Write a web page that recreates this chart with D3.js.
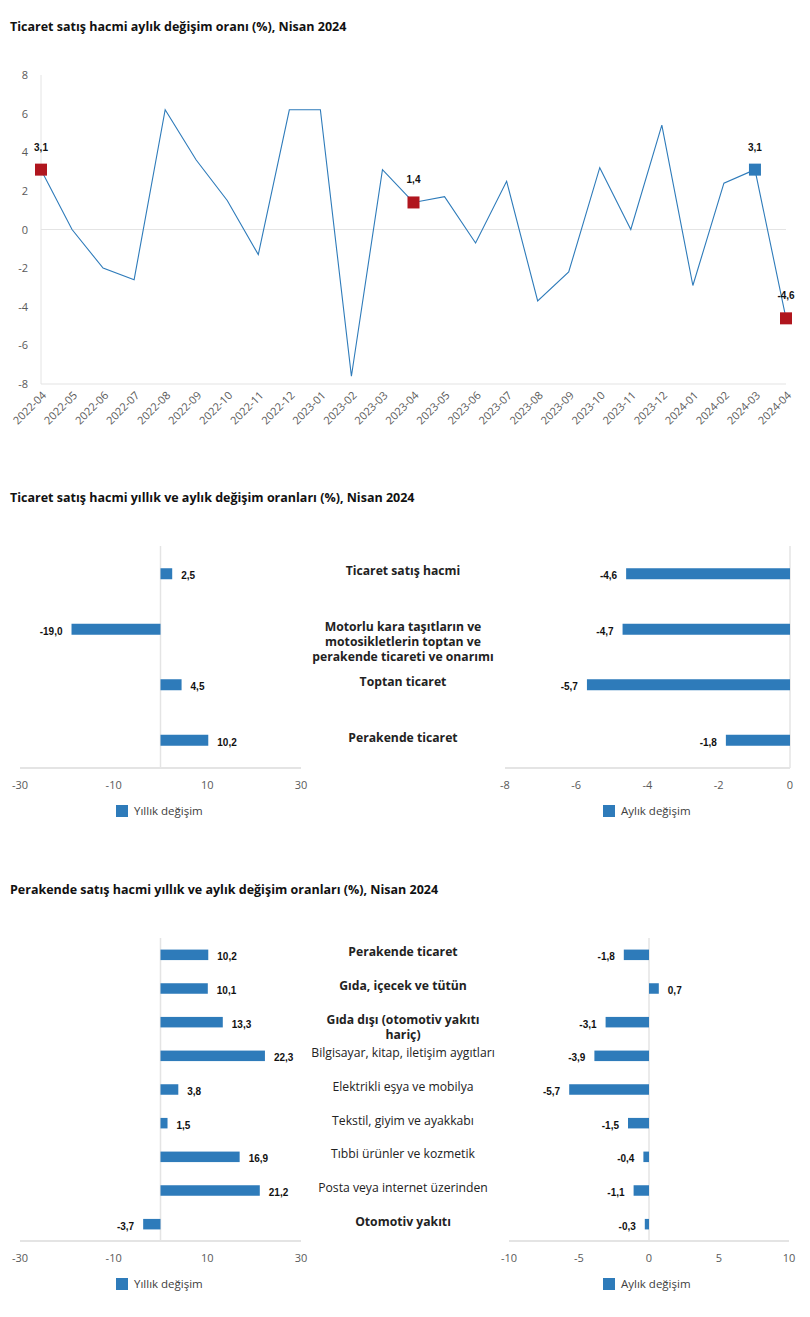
<!DOCTYPE html>
<html>
<head>
<meta charset="utf-8">
<script src="https://cdn.jsdelivr.net/npm/d3@7"></script>
<style>
  html, body { margin: 0; padding: 0; background: #fff; }
  svg { display: block; }
  text { font-family: "Open Sans", "Noto Sans", sans-serif; }
  .title { font-weight: 700; font-size: 12.5px; fill: #111; }
  .tick { font-size: 11px; fill: #595959; }
  .val { font-family: "Liberation Sans", Arial, sans-serif; font-weight: 700; font-size: 10px; fill: #111; }
  .cat { font-size: 12.2px; fill: #222; }
  .legend { font-size: 11.5px; fill: #404040; }
</style>
</head>
<body>
<script>
// ---------- DATA ----------
const months = ["2022-04","2022-05","2022-06","2022-07","2022-08","2022-09","2022-10","2022-11","2022-12",
  "2023-01","2023-02","2023-03","2023-04","2023-05","2023-06","2023-07","2023-08","2023-09","2023-10",
  "2023-11","2023-12","2024-01","2024-02","2024-03","2024-04"];
const monthlyChange = [3.1, 0.0, -2.0, -2.6, 6.2, 3.6, 1.5, -1.3, 6.2, 6.2, -7.6, 3.1, 1.4, 1.7, -0.7,
  2.5, -3.7, -2.2, 3.2, 0.0, 5.4, -2.9, 2.4, 3.1, -4.6];
const markedMonths = ["2022-04", "2023-04", "2024-03", "2024-04"];
const lineTicks = [-8, -6, -4, -2, 0, 2, 4, 6, 8];

const tradeCategories = ["Ticaret satış hacmi",
  "Motorlu kara taşıtların ve\nmotosikletlerin toptan ve\nperakende ticareti ve onarımı",
  "Toptan ticaret", "Perakende ticaret"];
const tradeAnnual = [2.5, -19.0, 4.5, 10.2];
const tradeMonthly = [-4.6, -4.7, -5.7, -1.8];
const tradeAnnualTicks = [-30, -10, 10, 30];
const tradeMonthlyTicks = [-8, -6, -4, -2, 0];

const retailCategories = ["Perakende ticaret", "Gıda, içecek ve tütün", "Gıda dışı (otomotiv yakıtı\nhariç)",
  "Bilgisayar, kitap, iletişim aygıtları", "Elektrikli eşya ve mobilya", "Tekstil, giyim ve ayakkabı",
  "Tıbbi ürünler ve kozmetik", "Posta veya internet üzerinden", "Otomotiv yakıtı"];
const retailMainGroups = ["Perakende ticaret", "Gıda, içecek ve tütün", "Gıda dışı (otomotiv yakıtı\nhariç)", "Otomotiv yakıtı"];
const retailAnnual = [10.2, 10.1, 13.3, 22.3, 3.8, 1.5, 16.9, 21.2, -3.7];
const retailMonthly = [-1.8, 0.7, -3.1, -3.9, -5.7, -1.5, -0.4, -1.1, -0.3];
const retailAnnualTicks = [-30, -10, 10, 30];
const retailMonthlyTicks = [-10, -5, 0, 5, 10];

const titles = ["Ticaret satış hacmi aylık değişim oranı (%), Nisan 2024",
  "Ticaret satış hacmi yıllık ve aylık değişim oranları (%), Nisan 2024",
  "Perakende satış hacmi yıllık ve aylık değişim oranları (%), Nisan 2024"];
const legendLabels = ["Yıllık değişim", "Aylık değişim"];

// ---------- STYLE ----------
const BLUE = "#2E7BBA", RED = "#B0161E", GRID = "#E4E4E4";
const fmt = v => d3.format(".1f")(v).replace(".", ",").replace("−", "-");

const svg = d3.select("body").append("svg").attr("width", 810).attr("height", 1317);

// titles
[31, 502, 894].forEach((y, i) => svg.append("text").attr("class", "title").attr("x", 10).attr("y", y).text(titles[i]));

// ---------- LINE CHART ----------
{
  const x = d3.scalePoint().domain(months).range([41, 786]);
  const y = d3.scaleLinear().domain([-8, 8]).range([384, 75]);
  const g = svg.append("g");
  g.append("line").attr("x1", x.range()[0]).attr("x2", x.range()[0]).attr("y1", y(8)).attr("y2", y(-8)).attr("stroke", GRID).attr("stroke-width", 1);
  g.append("line").attr("x1", x.range()[0]).attr("x2", x.range()[1]).attr("y1", y(0)).attr("y2", y(0)).attr("stroke", GRID).attr("stroke-width", 1.2);
  g.append("line").attr("x1", x.range()[0]).attr("x2", x.range()[1]).attr("y1", y(-8)).attr("y2", y(-8)).attr("stroke", GRID).attr("stroke-width", 1.2);
  g.selectAll(".yt").data(lineTicks).join("text").attr("class", "tick")
    .attr("x", 28).attr("y", d => y(d) + 4).attr("text-anchor", "end").text(d => d);
  g.selectAll(".xt").data(months).join("text").attr("class", "tick")
    .attr("text-anchor", "end")
    .attr("transform", d => `translate(${x(d) + 6},${y(-8) + 12}) rotate(-45)`)
    .text(d => d);
  const line = d3.line().x((d, i) => x(months[i])).y(d => y(d));
  g.append("path").datum(monthlyChange).attr("d", line).attr("fill", "none").attr("stroke", BLUE).attr("stroke-width", 1.1);
  const prevMonth = months[months.length - 2];
  markedMonths.forEach(m => {
    const v = monthlyChange[months.indexOf(m)];
    g.append("rect").attr("x", x(m) - 6).attr("y", y(v) - 6).attr("width", 12).attr("height", 12)
      .attr("fill", m === prevMonth ? BLUE : RED);
    g.append("text").attr("class", "val").attr("x", x(m)).attr("y", y(v) - 19)
      .attr("text-anchor", "middle").text(fmt(v));
  });
}

// ---------- BAR PANELS ----------
function barPanel(o) {
  const x = d3.scaleLinear().domain([o.ticks[0], o.ticks[o.ticks.length - 1]]).range(o.xRange);
  const y = d3.scaleBand().domain(o.cats).range(o.yRange);
  const g = svg.append("g");
  g.append("line").attr("x1", o.xRange[0]).attr("x2", o.xRange[1]).attr("y1", o.yRange[1]).attr("y2", o.yRange[1])
    .attr("stroke", GRID).attr("stroke-width", 2);
  g.append("line").attr("x1", x(0)).attr("x2", x(0)).attr("y1", o.yRange[0]).attr("y2", o.yRange[1])
    .attr("stroke", GRID).attr("stroke-width", 1.5);
  g.selectAll(".t").data(o.ticks).join("text").attr("class", "tick")
    .attr("x", d => x(d)).attr("y", o.yRange[1] + 21).attr("text-anchor", "middle").text(d => d);
  const cy = c => y(c) + y.bandwidth() / 2;
  g.selectAll(".b").data(o.values).join("rect")
    .attr("x", d => Math.min(x(0), x(d))).attr("width", d => Math.abs(x(d) - x(0)))
    .attr("y", (d, i) => cy(o.cats[i]) - o.barH / 2).attr("height", o.barH).attr("fill", BLUE);
  g.selectAll(".v").data(o.values).join("text").attr("class", "val")
    .attr("x", d => d >= 0 ? x(d) + 9 : x(d) - 9)
    .attr("text-anchor", d => d >= 0 ? "start" : "end")
    .attr("y", (d, i) => cy(o.cats[i]) + 5.5).text(d => fmt(d));
  g.append("rect").attr("x", o.legendX).attr("y", o.legendY - 6).attr("width", 12).attr("height", 12).attr("fill", BLUE);
  g.append("text").attr("class", "legend").attr("x", o.legendX + 18).attr("y", o.legendY + 4).text(o.legend);
  return cy;
}

function catLabels(cats, cy, isBold) {
  cats.forEach(c => {
    const t = svg.append("text").attr("class", "cat").attr("text-anchor", "middle")
      .attr("font-weight", isBold(c) ? 700 : 400);
    c.split("\n").forEach((line, k) => {
      t.append("tspan").attr("x", 403).attr("y", cy(c) + 1.5 + k * 15).text(line);
    });
  });
}

const cy1 = barPanel({ cats: tradeCategories, values: tradeAnnual, ticks: tradeAnnualTicks, xRange: [20, 301],
  yRange: [546, 768], barH: 11, legend: legendLabels[0], legendX: 116, legendY: 811 });
barPanel({ cats: tradeCategories, values: tradeMonthly, ticks: tradeMonthlyTicks, xRange: [505, 790],
  yRange: [546, 768], barH: 11, legend: legendLabels[1], legendX: 603, legendY: 811 });
catLabels(tradeCategories, cy1, () => true);

const cy2 = barPanel({ cats: retailCategories, values: retailAnnual, ticks: retailAnnualTicks, xRange: [20, 301],
  yRange: [938, 1241], barH: 10.5, legend: legendLabels[0], legendX: 116, legendY: 1284 });
barPanel({ cats: retailCategories, values: retailMonthly, ticks: retailMonthlyTicks, xRange: [509, 789],
  yRange: [938, 1241], barH: 10.5, legend: legendLabels[1], legendX: 603, legendY: 1284 });
catLabels(retailCategories, cy2, c => retailMainGroups.includes(c));
</script>
</body>
</html>
